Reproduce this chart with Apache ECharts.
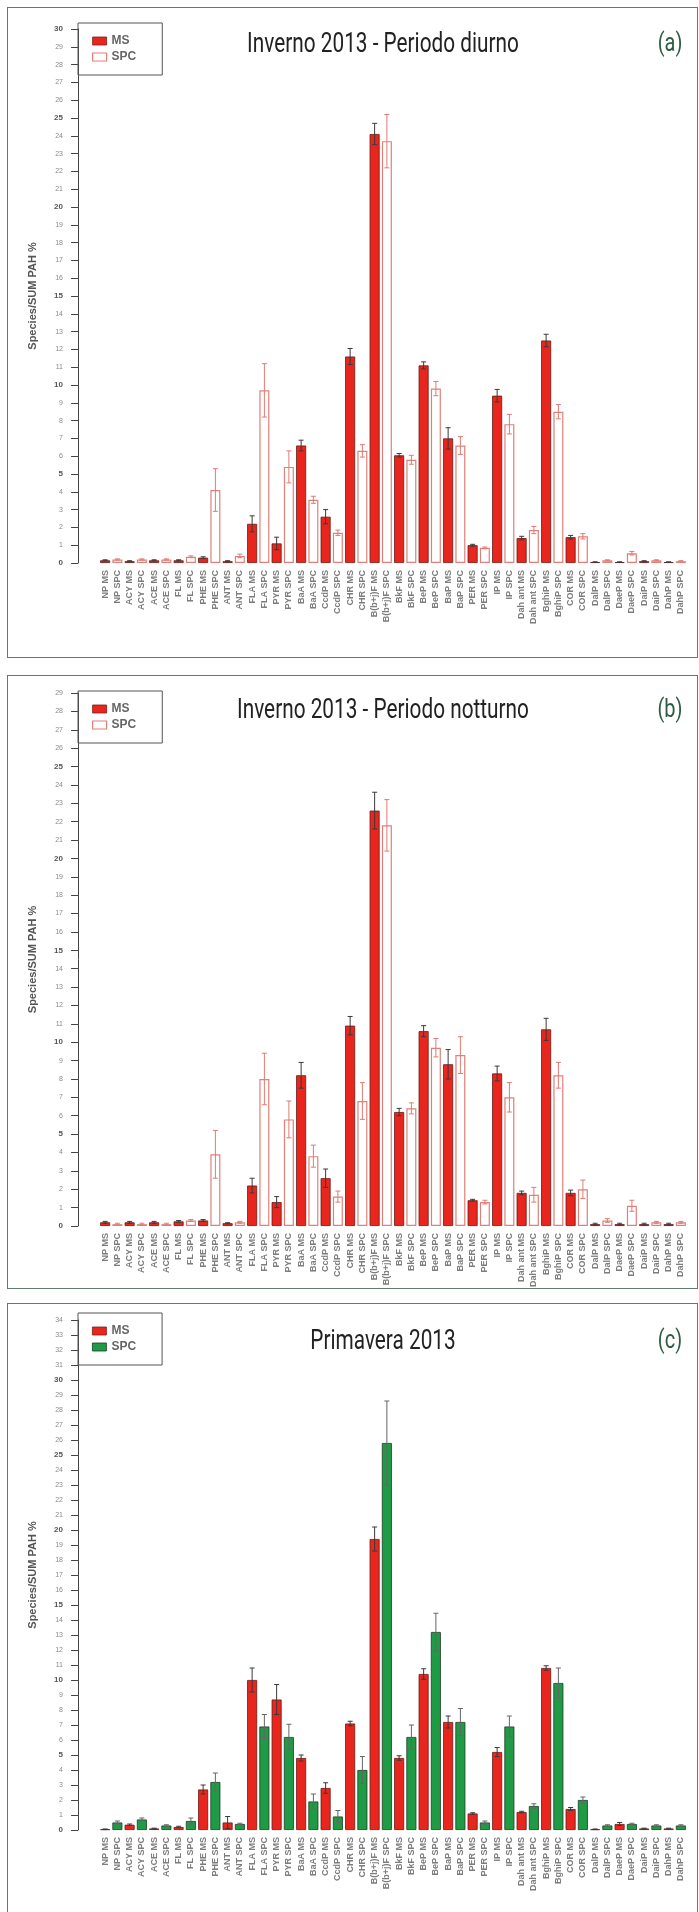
<!DOCTYPE html>
<html>
<head>
<meta charset="utf-8">
<script src="https://cdn.jsdelivr.net/npm/echarts@6/dist/echarts.min.js"></script>
<style>
html, body { margin: 0; padding: 0; background: #fff; }
body { position: relative; width: 699px; height: 1912px; overflow: hidden; }
.frame { position: absolute; border: 1.5px solid #5f7d6c; box-sizing: border-box; }
.chart { position: absolute; left: 0; width: 699px; }
</style>
</head>
<body>
<div class="frame" style="left:7px;top:7px;width:691px;height:651px"></div>
<div class="frame" style="left:7px;top:675px;width:691px;height:614px"></div>
<div class="frame" style="left:7px;top:1303px;width:691px;height:640px;border-bottom:none"></div>
<div id="pa" class="chart" style="top:0;height:660px"></div>
<div id="pb" class="chart" style="top:665px;height:625px"></div>
<div id="pc" class="chart" style="top:1295px;height:617px"></div>
<script>
// PAH species (one pair of bars each: MS and SPC)
const pahNames = ['NP', 'ACY', 'ACE', 'FL', 'PHE', 'ANT', 'FLA', 'PYR', 'BaA', 'CcdP', 'CHR', 'B(b+j)F',
    'BkF', 'BeP', 'BaP', 'PER', 'IP', 'Dah ant', 'BghiP', 'COR', 'DalP', 'DaeP', 'DaiP', 'DahP'];
const methodNames = ['MS', 'SPC'];

// (a) Inverno 2013 - Periodo diurno
const dayMS = [0.15, 0.1, 0.15, 0.15, 0.3, 0.1, 2.2, 1.1, 6.6, 2.6, 11.6, 24.1, 6.05, 11.1, 7.0, 1.0, 9.4, 1.4, 12.5, 1.45, 0.05, 0.05, 0.1, 0.05];
const dayMSErr = [0.03, 0.03, 0.03, 0.03, 0.05, 0.03, 0.45, 0.35, 0.3, 0.4, 0.45, 0.6, 0.1, 0.2, 0.6, 0.05, 0.35, 0.1, 0.35, 0.1, 0.02, 0.02, 0.03, 0.02];
const daySPC = [0.2, 0.2, 0.2, 0.35, 4.1, 0.4, 9.7, 5.4, 3.55, 1.7, 6.3, 23.7, 5.8, 9.8, 6.6, 0.85, 7.8, 1.85, 8.5, 1.5, 0.15, 0.55, 0.15, 0.1];
const daySPCErr = [0.03, 0.03, 0.03, 0.05, 1.2, 0.1, 1.5, 0.9, 0.2, 0.15, 0.35, 1.5, 0.25, 0.4, 0.5, 0.05, 0.55, 0.2, 0.4, 0.15, 0.03, 0.1, 0.03, 0.03];

// (b) Inverno 2013 - Periodo notturno
const nightMS = [0.2, 0.2, 0.2, 0.25, 0.3, 0.15, 2.2, 1.3, 8.2, 2.6, 10.9, 22.6, 6.2, 10.6, 8.8, 1.4, 8.3, 1.8, 10.7, 1.8, 0.1, 0.1, 0.1, 0.1];
const nightMSErr = [0.05, 0.05, 0.05, 0.05, 0.05, 0.03, 0.4, 0.3, 0.7, 0.5, 0.5, 1.0, 0.2, 0.3, 0.8, 0.05, 0.4, 0.1, 0.6, 0.15, 0.05, 0.05, 0.05, 0.05];
const nightSPC = [0.1, 0.1, 0.1, 0.3, 3.9, 0.2, 8.0, 5.8, 3.8, 1.6, 6.8, 21.8, 6.4, 9.7, 9.3, 1.3, 7.0, 1.7, 8.2, 2.0, 0.3, 1.1, 0.2, 0.2];
const nightSPCErr = [0.05, 0.05, 0.05, 0.05, 1.3, 0.05, 1.4, 1.0, 0.6, 0.3, 1.0, 1.4, 0.3, 0.5, 1.0, 0.1, 0.8, 0.4, 0.7, 0.5, 0.1, 0.3, 0.05, 0.05];

// (c) Primavera 2013
const springMS = [0.05, 0.35, 0.1, 0.2, 2.7, 0.5, 10.0, 8.7, 4.8, 2.8, 7.1, 19.4, 4.8, 10.4, 7.2, 1.1, 5.2, 1.2, 10.8, 1.4, 0.05, 0.4, 0.1, 0.1];
const springMSErr = [0.02, 0.05, 0.02, 0.05, 0.3, 0.4, 0.8, 1.0, 0.2, 0.35, 0.15, 0.8, 0.15, 0.35, 0.4, 0.05, 0.3, 0.05, 0.15, 0.1, 0.02, 0.1, 0.02, 0.02];
const springSPC = [0.5, 0.7, 0.3, 0.6, 3.2, 0.4, 6.9, 6.2, 1.9, 0.9, 4.0, 25.8, 6.2, 13.2, 7.2, 0.5, 6.9, 1.6, 9.8, 2.0, 0.3, 0.4, 0.3, 0.3];
const springSPCErr = [0.1, 0.1, 0.05, 0.2, 0.6, 0.05, 0.8, 0.85, 0.5, 0.4, 0.9, 2.8, 0.8, 1.25, 0.9, 0.1, 0.7, 0.15, 1.0, 0.2, 0.05, 0.05, 0.05, 0.05];

const yMaxDay = 30;
const yMaxNight = 29;
const yMaxSpring = 34;

const RED = '#e8261d';
const GREEN = '#1f9a45';

function errorRenderer(color) {
    return function (params, api) {
        const hi = api.coord([api.value(0), api.value(2)]);
        const lo = api.coord([api.value(0), api.value(1)]);
        const cap = 2.5;
        const st = { stroke: color, lineWidth: 1 };
        return {
            type: 'group',
            children: [
                { type: 'line', shape: { x1: hi[0], y1: hi[1], x2: lo[0], y2: lo[1] }, style: st },
                { type: 'line', shape: { x1: hi[0] - cap, y1: hi[1], x2: hi[0] + cap, y2: hi[1] }, style: st },
                { type: 'line', shape: { x1: lo[0] - cap, y1: lo[1], x2: lo[0] + cap, y2: lo[1] }, style: st }
            ]
        };
    };
}

function buildPanel(el, cfg) {
    const chart = echarts.init(el, null, { renderer: 'canvas' });
    const labels = [];
    pahNames.forEach(n => methodNames.forEach(m => labels.push(n + ' ' + m)));
    const msBars = labels.map((_, i) => (i % 2 === 0 ? cfg.ms[i / 2] : null));
    const spcBars = labels.map((_, i) => (i % 2 === 1 ? cfg.spc[(i - 1) / 2] : null));
    const msErr = cfg.ms.map((v, k) => [2 * k, Math.max(0, v - cfg.msErr[k]), v + cfg.msErr[k]]);
    const spcErr = cfg.spc.map((v, k) => [2 * k + 1, Math.max(0, v - cfg.spcErr[k]), v + cfg.spcErr[k]]);

    const options = {
        animation: false,
        textStyle: { fontFamily: 'Liberation Sans, Arial, sans-serif' },
        grid: { left: 99, width: 588, top: cfg.top, height: cfg.height },
        graphic: [
            {
                type: 'text', x: 383, y: cfg.titleY, scaleX: 0.77,
                style: { text: cfg.title, font: '27px Roboto, sans-serif', fill: '#222', textAlign: 'center', textVerticalAlign: 'middle' }
            },
            {
                type: 'text', x: 670, y: cfg.titleY, scaleX: 0.8,
                style: { text: cfg.tag, font: '25px Roboto, sans-serif', fill: '#2e5d45', textAlign: 'center', textVerticalAlign: 'middle' }
            }
        ],
        legend: {
            orient: 'vertical', left: 78, top: cfg.legendTop,
            padding: [12, 26, 12, 14], itemGap: 4,
            itemWidth: 14, itemHeight: 8, icon: 'rect',
            borderColor: '#555', borderWidth: 1, selectedMode: false,
            textStyle: { fontSize: 12, fontWeight: 'bold', color: '#666', lineHeight: 12 },
            data: [
                { name: 'MS', itemStyle: { color: RED, borderColor: '#7a1f18', borderWidth: 0.8 } },
                { name: 'SPC', itemStyle: cfg.spcLegendStyle }
            ]
        },
        xAxis: {
            type: 'category', data: labels,
            axisLine: { show: false }, axisTick: { show: false },
            axisLabel: { interval: 0, rotate: 90, fontSize: 9, fontWeight: 'bold', color: '#7d7d7d', margin: 7 }
        },
        yAxis: {
            type: 'value', min: 0, max: cfg.yMax, interval: 1, offset: 21,
            name: 'Species/SUM PAH %', nameLocation: 'middle', nameGap: 40,
            nameTextStyle: { fontSize: 11, fontWeight: 'bold', color: '#555' },
            splitLine: { show: false },
            axisLine: { show: true, lineStyle: { color: '#444', width: 1 } },
            axisTick: { show: true, length: 7, lineStyle: { color: '#444' } },
            axisLabel: {
                fontSize: 8, color: '#8a8a8a', margin: 15,
                formatter: v => (v % 5 === 0 ? '{b|' + v + '}' : '{n|' + v + '}'),
                rich: { b: { fontSize: 8, fontWeight: 'bold', color: '#555' }, n: { fontSize: 7, color: '#8a8a8a' } }
            }
        },
        series: [
            {
                name: 'MS', type: 'bar', data: msBars, barWidth: 10, barGap: '-100%',
                itemStyle: { color: RED, borderColor: '#6a1a14', borderWidth: 0.8 }
            },
            {
                name: 'SPC', type: 'bar', data: spcBars, barWidth: 10,
                itemStyle: cfg.spcStyle
            },
            {
                name: 'errMS', type: 'custom', data: msErr, z: 5,
                encode: { x: 0, y: [1, 2] }, renderItem: errorRenderer('#3a3a3a')
            },
            {
                name: 'errSPC', type: 'custom', data: spcErr, z: 5,
                encode: { x: 0, y: [1, 2] }, renderItem: errorRenderer(cfg.spcErrColor)
            }
        ]
    };
    chart.setOption(options);
    return chart;
}

const openSpc = { color: '#fff', borderColor: '#e0807a', borderWidth: 1.2 };
const greenSpc = { color: GREEN, borderColor: '#1d3d26', borderWidth: 0.8 };

buildPanel(document.getElementById('pa'), {
    title: 'Inverno 2013 - Periodo diurno', tag: '(a)', titleY: 45, legendTop: 23,
    top: 29, height: 534, yMax: yMaxDay,
    ms: dayMS, msErr: dayMSErr, spc: daySPC, spcErr: daySPCErr,
    spcStyle: openSpc, spcLegendStyle: openSpc, spcErrColor: '#e07a74'
});
buildPanel(document.getElementById('pb'), {
    title: 'Inverno 2013 - Periodo notturno', tag: '(b)', titleY: 46, legendTop: 26,
    top: 28, height: 538, yMax: yMaxNight,
    ms: nightMS, msErr: nightMSErr, spc: nightSPC, spcErr: nightSPCErr,
    spcStyle: openSpc, spcLegendStyle: openSpc, spcErrColor: '#e07a74'
});
buildPanel(document.getElementById('pc'), {
    title: 'Primavera 2013', tag: '(c)', titleY: 47, legendTop: 18,
    top: 25, height: 510, yMax: yMaxSpring,
    ms: springMS, msErr: springMSErr, spc: springSPC, spcErr: springSPCErr,
    spcStyle: greenSpc, spcLegendStyle: greenSpc, spcErrColor: '#666'
});
</script>
</body>
</html>
